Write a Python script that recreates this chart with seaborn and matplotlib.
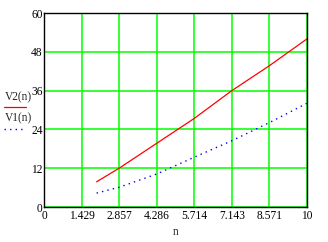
import matplotlib
matplotlib.use("Agg")
import matplotlib.pyplot as plt
import seaborn as sns
import pandas as pd
from matplotlib.lines import Line2D

n = [2.0, 2.857, 4.286, 5.714, 7.143, 8.571, 10.0]
v2 = [7.8, 12.0, 19.7, 27.4, 36.0, 43.7, 52.0]
v1 = [4.3, 6.1, 10.2, 15.4, 20.5, 26.1, 32.1]
xticks = [0, 1.429, 2.857, 4.286, 5.714, 7.143, 8.571, 10]
xticklabels = ["0", "1.429", "2.857", "4.286", "5.714", "7.143", "8.571", "10"]
yticks = [0, 12, 24, 36, 48, 60]

sns.set_style("white")
plt.rcParams['font.family'] = ['Liberation Serif', 'DejaVu Serif']

df = pd.DataFrame({"n": n, "V2": v2, "V1": v1})

fig = plt.figure(figsize=(3.28, 2.42), dpi=100)
ax = fig.add_axes([44/328, 1 - 207/242, 263/328, 194/242])

sns.lineplot(data=df, x="n", y="V2", ax=ax, color="#ff0000", linewidth=0.9)
sns.lineplot(data=df, x="n", y="V1", ax=ax, color="#0000ff", linewidth=1.0,
             linestyle=(0, (1, 3)))

fs = 8.3
ax.set_xlim(0, 10)
ax.set_ylim(0, 60)
ax.set_xticks(xticks)
ax.set_xticklabels(xticklabels)
ax.set_yticks(yticks)
ax.grid(True, color="#00ff00", linewidth=1.1)
ax.set_axisbelow(True)
for s in ax.spines.values():
    s.set_color("black")
    s.set_linewidth(1.0)
ax.tick_params(axis="both", length=0, labelsize=fs, colors="black")
ax.tick_params(axis="x", pad=2)
ax.tick_params(axis="y", pad=1)
ax.set_xlabel("n", fontsize=fs, labelpad=3)
ax.set_ylabel("")

fig.text(5/328, 1 - 97/242, "V2(n)", fontsize=fs, va="center", ha="left")
fig.add_artist(Line2D([4/328, 26/328], [1 - 107/242, 1 - 107/242],
                      color="#ff0000", linewidth=0.9, transform=fig.transFigure))
fig.text(5/328, 1 - 118/242, "V1(n)", fontsize=fs, va="center", ha="left")
fig.add_artist(Line2D([4/328, 26/328], [1 - 129/242, 1 - 129/242],
                      color="#0000ff", linewidth=1.0, linestyle=(0, (1, 3)),
                      transform=fig.transFigure))

fig.savefig("out.png", dpi=100, facecolor="white")
